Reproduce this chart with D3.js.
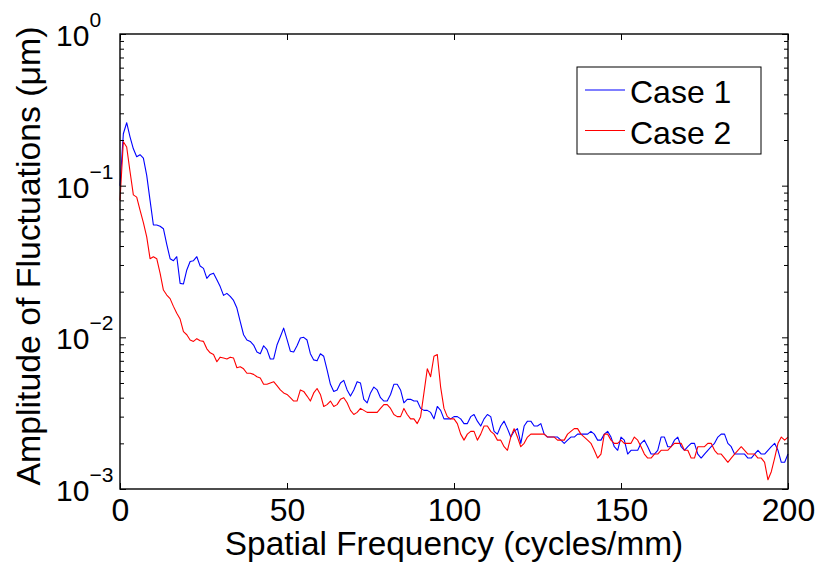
<!DOCTYPE html>
<html>
<head>
<meta charset="utf-8">
<script src="https://cdn.jsdelivr.net/npm/d3@7"></script>
<style>
  html, body { margin: 0; padding: 0; background: #fff; }
  svg { display: block; font-family: "Liberation Sans", Arial, Helvetica, sans-serif; }
</style>
</head>
<body>
<div id="chart"></div>
<script>
// spatial frequency samples (cycles/mm)
const freq = d3.range(0, 201);

// amplitude of fluctuations (um)
const case1 = [
  0.10, 0.22, 0.26, 0.21, 0.175, 0.155, 0.16, 0.152, 0.117, 0.08,
  0.055, 0.055, 0.054, 0.052, 0.041, 0.033, 0.032, 0.034, 0.0227, 0.0225,
  0.0278, 0.0316, 0.032, 0.034, 0.0295, 0.0285, 0.0245, 0.026, 0.0265, 0.024,
  0.0216, 0.0189, 0.0195, 0.0186, 0.0175, 0.0156, 0.0127, 0.0104, 0.0096, 0.0094,
  0.0089, 0.0080, 0.0078, 0.0088, 0.0083, 0.0072, 0.0072, 0.0089, 0.0101, 0.0115,
  0.0097, 0.0081, 0.0080, 0.0088, 0.0099, 0.0100, 0.0096, 0.0078, 0.0071, 0.0070,
  0.0078, 0.0075, 0.0061, 0.0049, 0.0044, 0.0045, 0.0050, 0.0052, 0.0045, 0.0041,
  0.0045, 0.0051, 0.0050, 0.0039, 0.0037, 0.0043, 0.0047, 0.0045, 0.0040, 0.0038,
  0.0038, 0.0042, 0.0049, 0.0049, 0.0045, 0.0037, 0.0039, 0.0039, 0.0038, 0.0038,
  0.0034, 0.0033, 0.0033, 0.0032, 0.0029, 0.0035, 0.0033, 0.0029, 0.0029, 0.0029,
  0.0030, 0.0030, 0.0029, 0.0027, 0.0027, 0.0030, 0.0031, 0.0028, 0.0026, 0.0029,
  0.0031, 0.0030, 0.0024, 0.0023, 0.0026, 0.0028, 0.0025, 0.0022, 0.0024, 0.0025,
  0.0020, 0.0026, 0.0028, 0.0028, 0.0026, 0.0026, 0.0027, 0.0023, 0.0022, 0.0022,
  0.0022, 0.0022, 0.0021, 0.0020, 0.0021, 0.0022, 0.0022, 0.0023, 0.0023, 0.0023,
  0.0023, 0.0024, 0.0023, 0.0021, 0.0021, 0.0023, 0.0024, 0.0022, 0.0019, 0.0018,
  0.0022, 0.0021, 0.0017, 0.0018, 0.0018, 0.0018, 0.0020, 0.0021, 0.0019, 0.0017,
  0.0017, 0.0018, 0.0022, 0.0022, 0.0019, 0.0019, 0.0021, 0.0022, 0.0019, 0.0018,
  0.0019, 0.0020, 0.0020, 0.0017, 0.0016, 0.0017, 0.0018, 0.0019, 0.0020, 0.0022,
  0.0023, 0.0023, 0.0020, 0.0019, 0.0017, 0.0017, 0.0017, 0.0017, 0.0016, 0.0016,
  0.0017, 0.0018, 0.0017, 0.0017, 0.0018, 0.0019, 0.0020, 0.0018, 0.0015, 0.0015,
  0.0017
];

const case2 = [
  0.080, 0.195, 0.18, 0.124, 0.087, 0.084, 0.069, 0.057, 0.046, 0.033,
  0.034, 0.033, 0.0265, 0.0205, 0.019, 0.018, 0.016, 0.0144, 0.0132, 0.0109,
  0.0104, 0.0096, 0.0094, 0.0098, 0.0095, 0.0094, 0.0084, 0.0079, 0.0077, 0.0069,
  0.0074, 0.0073, 0.0072, 0.0074, 0.0073, 0.0063, 0.0064, 0.0062, 0.0058, 0.0058,
  0.0057, 0.0055, 0.0054, 0.0049, 0.0049, 0.0050, 0.0051, 0.0048, 0.0045, 0.0043,
  0.0042, 0.0040, 0.0038, 0.0038, 0.0045, 0.0044, 0.0041, 0.0038, 0.0043, 0.0046,
  0.0042, 0.0035, 0.0036, 0.0038, 0.0035, 0.0036, 0.0039, 0.0040, 0.0037, 0.0033,
  0.0031, 0.0032, 0.0034, 0.0033, 0.0032, 0.0032, 0.0032, 0.0032, 0.0034, 0.0036,
  0.0036, 0.0034, 0.0031, 0.0030, 0.0030, 0.0034, 0.0031, 0.0029, 0.0029, 0.0027,
  0.0030, 0.0043, 0.0062, 0.0055, 0.0075, 0.0077, 0.0047, 0.0034, 0.0030, 0.0029,
  0.0029, 0.0027, 0.0023, 0.0021, 0.0023, 0.0024, 0.0024, 0.0021, 0.0023, 0.0026,
  0.0026, 0.0024, 0.0023, 0.0021, 0.0021, 0.0019, 0.0018, 0.0022, 0.0025, 0.0022,
  0.0019, 0.0020, 0.0022, 0.0023, 0.0023, 0.0023, 0.0023, 0.0023, 0.0022, 0.0022,
  0.0022, 0.0021, 0.0021, 0.0021, 0.0023, 0.0024, 0.0025, 0.0025, 0.0023, 0.0022,
  0.0021, 0.0020, 0.0018, 0.0016, 0.0017, 0.0023, 0.0023, 0.0021, 0.0020, 0.0020,
  0.0021, 0.0020, 0.0020, 0.0020, 0.0022, 0.0021, 0.0019, 0.0017, 0.0016, 0.0016,
  0.0017, 0.0017, 0.0018, 0.0018, 0.0018, 0.0019, 0.0020, 0.0020, 0.0020, 0.0018,
  0.0018, 0.0016, 0.0016, 0.0019, 0.0019, 0.0019, 0.0020, 0.0020, 0.0018, 0.0017,
  0.0017, 0.0016, 0.0015, 0.0016, 0.0017, 0.0018, 0.0019, 0.0018, 0.0017, 0.0017,
  0.0017, 0.0016, 0.0016, 0.0015, 0.00115, 0.0013, 0.0016, 0.0020, 0.0022, 0.0021,
  0.0022
];

const xTicks = [0, 50, 100, 150, 200];
const yDecades = [0, -1, -2, -3];
const seriesNames = ["Case 1", "Case 2"];
const seriesColors = ["#0000ff", "#ff0000"];

const W = 822, H = 565;
const pL = 120, pR = 788, pT = 34, pB = 489;

const svg = d3.select("#chart").append("svg")
  .attr("width", W)
  .attr("height", H);

const x = d3.scaleLinear().domain([0, 200]).range([pL, pR]);
const y = d3.scaleLog().domain([1e-3, 1]).range([pB, pT]);

// lines
const line = d3.line()
  .x((d, i) => x(freq[i]))
  .y(d => y(d));

[case1, case2].forEach((s, k) => {
  svg.append("path")
    .datum(s)
    .attr("fill", "none")
    .attr("stroke", seriesColors[k])
    .attr("stroke-width", 1.1)
    .attr("stroke-linejoin", "round")
    .attr("d", line);
});

// ticks (inward, on all four sides)
function styleAxis(g) {
  g.select(".domain").remove();
  g.selectAll(".tick line").attr("stroke", "#000").attr("stroke-width", 1);
}

svg.append("g")
  .attr("transform", `translate(0,${pB})`)
  .call(d3.axisBottom(x).tickValues(xTicks).tickSize(-6).tickPadding(9))
  .call(styleAxis)
  .call(g => g.selectAll("text")
    .attr("font-size", 32)
    .attr("fill", "#000")
    .attr("font-family", "Liberation Sans, Arial, sans-serif"));

svg.append("g")
  .attr("transform", `translate(0,${pT})`)
  .call(d3.axisTop(x).tickValues(xTicks).tickSize(-6).tickFormat(""))
  .call(styleAxis);

const majorY = yDecades.map(e => Math.pow(10, e));
const minorY = y.ticks().filter(v => !majorY.some(m => Math.abs(m - v) / v < 1e-6));

[[d3.axisLeft, pL], [d3.axisRight, pR]].forEach(([ax, pos]) => {
  svg.append("g")
    .attr("transform", `translate(${pos},0)`)
    .call(ax(y).tickValues(majorY).tickSize(-6).tickFormat(""))
    .call(styleAxis);
  svg.append("g")
    .attr("transform", `translate(${pos},0)`)
    .call(ax(y).tickValues(minorY).tickSize(-4).tickFormat(""))
    .call(styleAxis);
});

// y tick labels: 10 with exponent
yDecades.forEach(e => {
  const t = svg.append("text")
    .attr("x", 56)
    .attr("y", y(Math.pow(10, e)) + 12)
    .attr("font-size", 30)
    .attr("fill", "#000");
  t.append("tspan").text("10");
  t.append("tspan")
    .attr("dy", -19)
    .attr("font-size", 21)
    .text(e === 0 ? "0" : "\u2212" + (-e));
});

// box
svg.append("rect")
  .attr("x", pL).attr("y", pT)
  .attr("width", pR - pL).attr("height", pB - pT)
  .attr("fill", "none")
  .attr("stroke", "#000")
  .attr("stroke-width", 1.4);

// axis labels
svg.append("text")
  .attr("x", (pL + pR) / 2)
  .attr("y", 555)
  .attr("text-anchor", "middle")
  .attr("font-size", 33.4)
  .text("Spatial Frequency (cycles/mm)");

svg.append("text")
  .attr("transform", `translate(40,256) rotate(-90)`)
  .attr("text-anchor", "middle")
  .attr("font-size", 33.8)
  .text("Amplitude of Fluctuations (\u03bcm)");

// legend
const lg = svg.append("g");
lg.append("rect")
  .attr("x", 577).attr("y", 67)
  .attr("width", 184).attr("height", 87)
  .attr("fill", "#fff")
  .attr("stroke", "#000")
  .attr("stroke-width", 1);

seriesNames.forEach((name, k) => {
  const cy = 90 + k * 40.5;
  lg.append("line")
    .attr("x1", 585).attr("x2", 625)
    .attr("y1", cy).attr("y2", cy)
    .attr("stroke", seriesColors[k])
    .attr("stroke-width", 1.1);
  lg.append("text")
    .attr("x", 630)
    .attr("y", cy + 13)
    .attr("font-size", 32)
    .text(name);
});
</script>
</body>
</html>
